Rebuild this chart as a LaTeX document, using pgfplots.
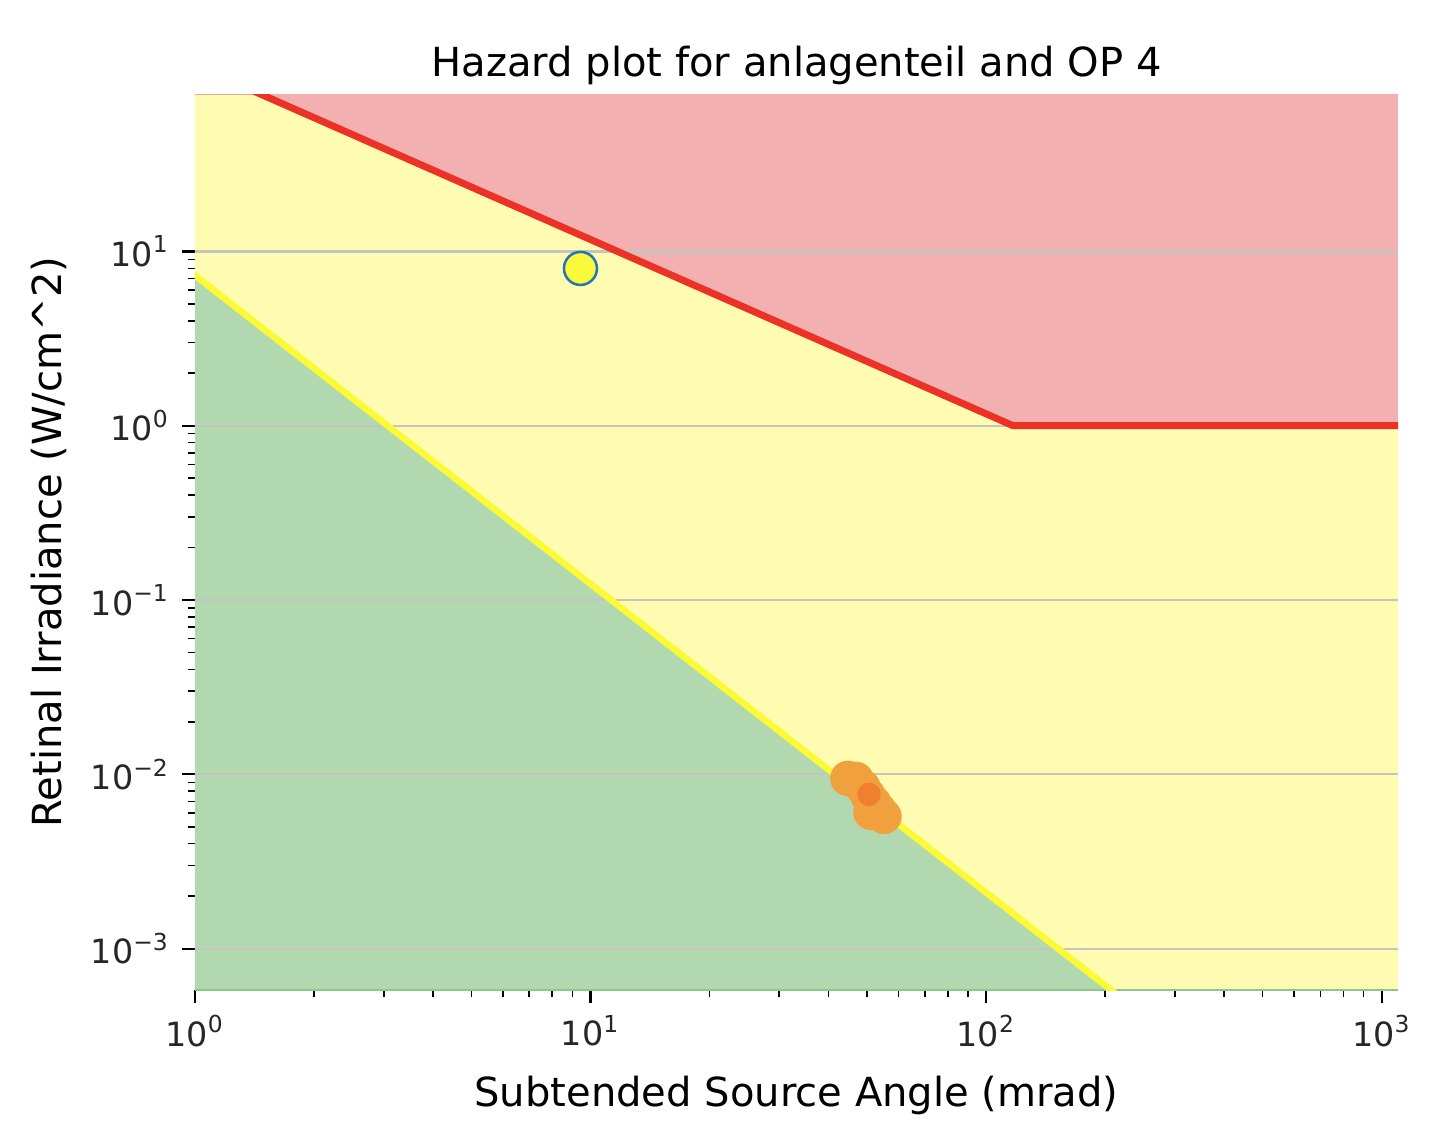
\documentclass[border=0pt]{standalone}
\usepackage{fontspec}
\setmainfont{DejaVu Sans}
\usepackage{pgfplots}
\pgfplotsset{compat=1.18}
\definecolor{yfill}{RGB}{255,252,177}
\definecolor{rfill}{RGB}{242,176,177}
\definecolor{gfill}{RGB}{178,216,176}
\definecolor{rline}{RGB}{236,50,38}
\definecolor{yline}{RGB}{250,250,55}
\definecolor{gridc}{RGB}{196,196,196}
\definecolor{gedge}{RGB}{140,200,140}
\definecolor{redge}{RGB}{240,165,150}
\definecolor{mblue}{RGB}{40,115,180}
\definecolor{myel}{RGB}{250,250,60}
\definecolor{orblob}{RGB}{241,160,62}
\definecolor{ordot}{RGB}{238,128,48}
\newcommand{\pw}[1]{10\textsuperscript{#1}}
\begin{document}
\begin{tikzpicture}
\useasboundingbox (-19.5mm,-14.4mm) rectangle (125.3mm,99.0mm);
\begin{axis}[
  at={(0,0)}, anchor=south west,
  scale only axis, width=120.3mm, height=89.6mm,
  xmode=log, ymode=log,
  xmin=1, xmax=1100, ymin=5.79e-4, ymax=80,
  axis line style={draw=none},
  tick align=outside,
  xtick pos=bottom, ytick pos=left,
  xtick={1,10,100,1000},
  xticklabels={\pw{0},\pw{1},\pw{2},\pw{3}},
  ytick={0.001,0.01,0.1,1,10},
  yticklabels={\pw{−3},\pw{−2},\pw{−1},\pw{0},\pw{1}},
  major tick length=1.3mm, minor tick length=0.75mm,
  every major tick/.style={black, line width=0.22mm},
  every minor tick/.style={black, line width=0.16mm},
  ticklabel style={font=\fontsize{9.5}{11}\selectfont, text=black!85},
  every axis title shift=0pt,
  title={Hazard plot for anlagenteil and OP 4},
  title style={at={(axis description cs:0.5,1.019)}, anchor=base, font=\fontsize{11.4}{13}\selectfont},
  xlabel={Subtended Source Angle (mrad)},
  xlabel style={at={(axis description cs:0.5,-0.1304)}, anchor=base, font=\fontsize{11.4}{13}\selectfont},
  ylabel={Retinal Irradiance (W/cm\^{}2)},
  ylabel style={at={(axis description cs:-0.1107,0.5)}, anchor=base, font=\fontsize{11.4}{13}\selectfont},
]
% regions
\addplot[draw=none, fill=rfill] coordinates {(1.4625,80) (117,1) (1100,1) (1100,80) (1.4625,80)};
\addplot[draw=none, fill=yfill] coordinates {(1,7.28) (207,5.79e-4) (1100,5.79e-4) (1100,1) (117,1) (1.4625,80) (1,80) (1,7.28)};
\addplot[draw=none, fill=gfill] coordinates {(1,5.79e-4) (1,7.28) (207,5.79e-4) (1,5.79e-4)};
% fill edges
\addplot[redge, line width=0.25mm] coordinates {(1,80) (1.4625,80)};
\addplot[gedge, line width=0.3mm] coordinates {(1,5.79e-4) (1100,5.79e-4)};
% grid lines
\addplot[gridc, line width=0.22mm] coordinates {(1,10) (1100,10)};
\addplot[gridc, line width=0.22mm] coordinates {(1,1) (1100,1)};
\addplot[gridc, line width=0.22mm] coordinates {(1,0.1) (1100,0.1)};
\addplot[gridc, line width=0.22mm] coordinates {(1,0.01) (1100,0.01)};
\addplot[gridc, line width=0.22mm] coordinates {(1,0.001) (1100,0.001)};
% limit lines
\addplot[rline, line width=0.7mm] coordinates {(1.3,90) (117,1) (1200,1)};
\addplot[yline, line width=0.65mm] coordinates {(0.9,8.77) (1,7.28) (207,5.79e-4) (230,4.81e-4)};
% measurements
\addplot[only marks, mark=*, mark size=1.7mm, color=orblob, mark options={draw=orblob, fill=orblob}] coordinates {
(44.74,0.00948) (46.88,0.00936) (48.83,0.00842) (50.27,0.00757)
(52.06,0.00681) (53.59,0.00621) (55.19,0.00574) (51.16,0.00605)
};
\addplot[only marks, mark=*, mark size=1.1mm, mark options={draw=ordot, fill=ordot}] coordinates {(50.6,0.00768)};
\addplot[only marks, mark=*, mark size=1.65mm, mark options={draw=mblue, fill=myel, line width=0.25mm}] coordinates {(9.43,7.99)};
\end{axis}
\end{tikzpicture}
\end{document}
